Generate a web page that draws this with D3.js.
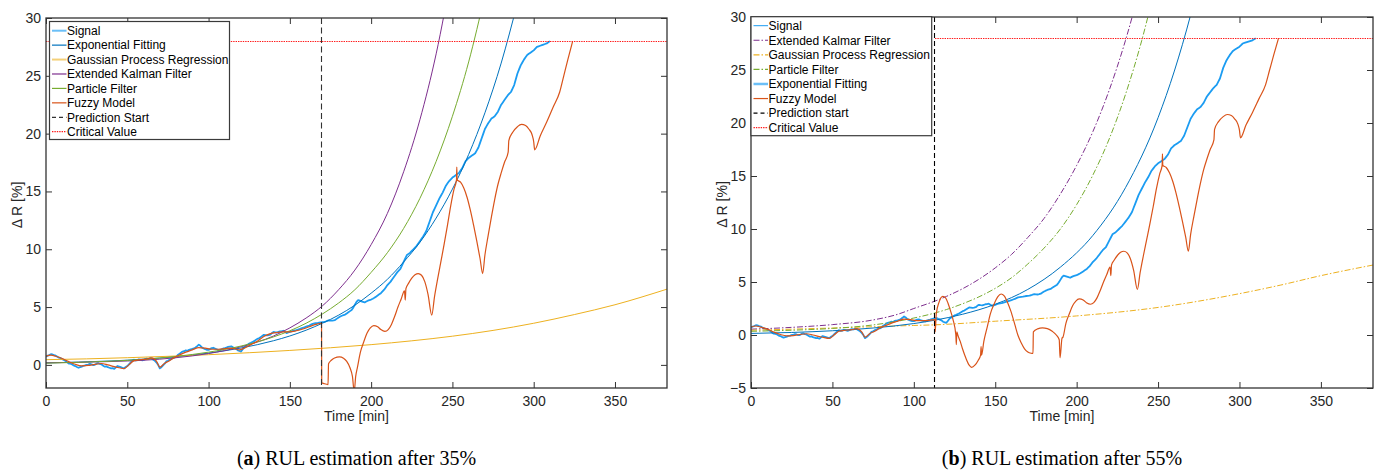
<!DOCTYPE html>
<html>
<head>
<meta charset="utf-8">
<script src="https://cdn.jsdelivr.net/npm/d3@7"></script>
<style>
  body { margin: 0; background: #fff; }
  svg { display: block; }
</style>
</head>
<body>
<svg id="chart" width="1381" height="470"></svg>
<script>
// ---------- data ----------
// measured resistance change, sampled every minute from t = 0
const signalStep = 1;
const signalValues = [
  0.70, 0.80, 0.85, 0.92, 0.90, 0.84, 0.80, 0.70, 0.62, 0.58, 0.50,
  0.42, 0.35, 0.22, 0.12, 0.10, 0.05, -0.05, -0.10, -0.18, -0.25,
  -0.20, -0.15, -0.08, -0.05, 0.00, 0.02, 0.08, 0.05, -0.02, 0.00,
  0.10, 0.15, 0.08, 0.05, -0.05, -0.15, -0.12, -0.20, -0.25, -0.30,
  -0.28, -0.35, -0.22, -0.10, -0.15, -0.20, -0.25, -0.30, -0.18, -0.10,
  0.05, 0.20, 0.35, 0.45, 0.38, 0.40, 0.48, 0.45, 0.40, 0.42,
  0.50, 0.55, 0.52, 0.60, 0.55, 0.45, 0.35, 0.20, 0.00, -0.30,
  -0.20, -0.05, 0.10, 0.30, 0.35, 0.45, 0.50, 0.60, 0.62, 0.70,
  0.85, 0.95, 1.05, 1.15, 1.18, 1.25, 1.22, 1.30, 1.35, 1.38,
  1.42, 1.50, 1.62, 1.75, 1.65, 1.50, 1.42, 1.35, 1.30, 1.30,
  1.38, 1.45, 1.48, 1.40, 1.35, 1.30, 1.28, 1.35, 1.42, 1.45,
  1.50, 1.55, 1.58, 1.60, 1.52, 1.45, 1.38, 1.25, 1.20, 1.15,
  1.35, 1.55, 1.65, 1.75, 1.85, 1.90, 1.98, 2.05, 2.15, 2.25,
  2.30, 2.40, 2.50, 2.60, 2.58, 2.55, 2.58, 2.62, 2.75, 2.85,
  2.82, 2.80, 2.85, 2.90, 2.92, 2.95, 2.85, 2.75, 2.80, 2.85,
  2.90, 2.95, 2.98, 3.00, 3.05, 3.10, 3.15, 3.20, 3.25, 3.30,
  3.35, 3.40, 3.48, 3.55, 3.58, 3.60, 3.62, 3.65, 3.68, 3.70,
  3.72, 3.75, 3.80, 3.85, 3.83, 3.82, 3.85, 3.90, 4.00, 4.10,
  4.18, 4.25, 4.30, 4.35, 4.45, 4.55, 4.65, 4.75, 4.95, 5.20,
  5.45, 5.60, 5.55, 5.50, 5.45, 5.40, 5.48, 5.55, 5.60, 5.65,
  5.72, 5.80, 5.90, 6.00, 6.10, 6.20, 6.35, 6.50, 6.70, 6.90,
  7.05, 7.20, 7.40, 7.60, 7.80, 8.00, 8.15, 8.30, 8.60, 8.90,
  9.20, 9.50, 9.60, 9.70, 9.85, 10.00, 10.15, 10.30, 10.50, 10.70,
  10.90, 11.10, 11.35, 11.60, 12.00, 12.40, 12.80, 13.20, 13.50, 13.80,
  14.10, 14.40, 14.65, 14.90, 15.20, 15.50, 15.70, 15.90, 16.05, 16.20,
  16.30, 16.40, 16.50, 16.60, 16.80, 17.00, 17.30, 17.60, 17.75, 17.90,
  18.00, 18.10, 18.20, 18.30, 18.55, 18.80, 19.20, 19.60, 20.00, 20.40,
  20.65, 20.90, 21.10, 21.30, 21.40, 21.50, 21.70, 21.90, 22.20, 22.50,
  22.70, 22.90, 23.10, 23.30, 23.45, 23.60, 23.90, 24.20, 24.70, 25.20,
  25.55, 25.90, 26.15, 26.40, 26.60, 26.80, 26.90, 27.00, 27.10, 27.20,
  27.35, 27.50, 27.55, 27.60, 27.65, 27.70, 27.75, 27.80, 27.90, 28.00
];

// fuzzy model: tracking part before the prediction start  [t, value]
const fuzzyHistory = [
  [0, 0.75], [3, 0.85], [6, 0.75], [10, 0.55], [14, 0.28], [18, 0.05], [22, -0.08],
  [26, -0.05], [30, 0.05], [34, 0.12], [38, 0.0], [42, -0.15], [45, -0.25], [48, -0.32],
  [51, 0.0], [54, 0.35], [58, 0.45], [62, 0.5], [65, 0.6], [68, 0.3], [70, -0.2],
  [73, 0.15], [76, 0.35], [79, 0.65], [82, 0.85], [86, 1.1], [90, 1.3], [94, 1.5],
  [98, 1.45], [102, 1.35], [106, 1.35], [110, 1.4], [113, 1.45], [116, 1.4], [119, 1.3],
  [122, 1.45], [126, 1.75], [130, 2.05], [134, 2.45], [138, 2.7], [142, 2.8], [146, 2.85],
  [150, 2.85], [154, 2.95], [158, 3.1], [162, 3.3], [166, 3.5], [169.5, 3.6]
];
// fuzzy model forecast, start after 35 %
const fuzzyPredA = [
  [169.6, -1.55], [171, -1.62], [173.5, -1.7], [173.8, 0.1], [175.5, 0.4], [177.5, 0.6],
  [180.5, 0.7], [183, 0.58], [185, 0.3], [187, -0.25], [188.5, -1.0], [189.6, -2.3], [190.5, -1.0]
];
// fuzzy model forecast, start after 55 %
const fuzzyPredB = [
  [113.1, 0.3], [113.8, 2.0], [115.5, 3.1], [117.8, 3.65], [119.5, 3.5], [121, 3.0],
  [122.5, 2.3], [124, 1.5], [125.8, 0.0], [126.1, -0.9], [126.4, 0.3], [127, 0.0],
  [128.5, -0.6], [130, -1.35], [132, -2.2], [134, -2.85], [135.5, -3.05], [137.5, -2.85],
  [139.5, -2.4], [141, -1.9], [141.3, -1.1], [141.6, -1.9], [143, -0.6], [145, 0.7],
  [147, 2.0], [149.5, 3.0], [151.5, 3.6], [153.6, 3.87], [155.5, 3.7], [157.5, 3.1],
  [159.7, 2.2], [162, 1.0], [164, -0.05], [166, -0.75], [168, -1.3], [170, -1.6],
  [172, -1.72], [173.2, -1.74], [173.4, 0.3], [176, 0.58], [179, 0.67], [182, 0.6],
  [185, 0.35], [187.5, 0.0], [189.3, -0.45], [189.8, -2.15], [191, -0.3]
];
// fuzzy model forecast common to both starts
const fuzzyTail = [
  [191.6, -0.2], [193.4, 1.1], [195.5, 2.0], [197.5, 2.75], [199.5, 3.2], [201.6, 3.4],
  [204, 3.3], [206, 3.05], [208.5, 2.9], [210.5, 3.05], [212.5, 3.5], [214.5, 4.2],
  [216.5, 5.0], [218.5, 5.7], [220.5, 6.4], [221, 5.6], [221.4, 6.6], [223, 7.05],
  [225, 7.5], [227, 7.8], [229, 7.9], [231, 7.75], [233, 7.2], [235, 6.1], [237.3, 4.3],
  [239, 5.9], [241, 7.5], [243, 9.0], [245, 10.5], [247, 12.1], [249, 13.8], [251, 15.2],
  [252.5, 16.0], [252.7, 17.1], [252.9, 16.0], [255, 15.8], [257, 15.3], [259, 14.5],
  [261, 13.4], [263, 12.1], [265, 10.7], [267, 9.2], [268.6, 7.9], [270, 9.5], [272, 11.2],
  [274, 12.8], [276, 14.3], [278, 15.6], [280, 16.6], [282, 17.5], [284.3, 18.4],
  [284.7, 19.4], [287, 20.1], [290, 20.6], [292.5, 20.8], [295, 20.7], [297, 20.4],
  [299, 19.9], [300, 19.3], [300.6, 18.6], [304, 19.8], [308, 21.0], [312, 22.3],
  [316, 23.6], [318.5, 25.0], [321, 26.4], [324, 28.0]
];

// model curves, start after 35 %   [t, value]
const expFitA = [[0, 0.17], [20, 0.24], [40, 0.34], [60, 0.49], [80, 0.71], [100, 1.02], [120, 1.46],
  [140, 2.09], [150, 2.5], [160, 3.0], [170, 3.6], [180, 4.3], [190, 5.16], [200, 6.2], [210, 7.4],
  [220, 8.9], [230, 10.6], [240, 12.7], [250, 15.2], [260, 18.2], [270, 21.8], [280, 26.1], [290, 31.3]];
const gprA = [[0, 0.45], [25, 0.52], [50, 0.62], [75, 0.74], [100, 0.88], [125, 1.05], [150, 1.25],
  [175, 1.48], [200, 1.75], [225, 2.08], [250, 2.48], [275, 2.98], [300, 3.6], [325, 4.35],
  [350, 5.2], [382, 6.55]];
const ekfA = [[0, 0.18], [20, 0.22], [40, 0.29], [60, 0.40], [80, 0.62], [100, 0.98], [120, 1.57],
  [140, 2.5], [150, 3.2], [160, 4.05], [170, 5.1], [180, 6.5], [190, 8.2], [200, 10.4], [210, 13.1],
  [220, 16.7], [230, 21.2], [240, 26.9], [250, 34.2]];
const pfA = [[0, 0.15], [20, 0.22], [40, 0.32], [60, 0.48], [80, 0.73], [100, 1.1], [120, 1.63],
  [140, 2.42], [150, 2.95], [160, 3.6], [170, 4.4], [180, 5.35], [190, 6.5], [200, 8.0], [210, 9.7],
  [220, 11.8], [230, 14.4], [240, 17.6], [250, 21.5], [260, 26.2], [270, 32.0]];

// model curves, start after 55 %
const expFitB = [[0, 0.15], [25, 0.24], [50, 0.4], [75, 0.66], [100, 1.08], [113, 1.4], [130, 1.96],
  [150, 2.9], [170, 4.3], [190, 6.4], [210, 9.4], [230, 13.9], [250, 20.5], [260, 24.9],
  [270, 30.2], [280, 36.6]];
const gprB = [[0, 0.45], [25, 0.55], [50, 0.66], [75, 0.78], [100, 0.9], [113, 0.96], [150, 1.3],
  [200, 1.8], [250, 2.6], [300, 3.9], [325, 4.7], [350, 5.6], [382, 6.6]];
const ekfB = [[0, 0.55], [25, 0.72], [50, 0.98], [75, 1.42], [90, 1.95], [100, 2.5], [113, 3.2],
  [120, 3.64], [130, 4.37], [140, 5.26], [150, 6.33], [160, 7.6], [170, 9.2], [180, 11.0],
  [190, 13.3], [200, 16.0], [210, 19.2], [220, 23.1], [230, 27.8], [240, 33.4]];
const pfB = [[0, 0.35], [25, 0.45], [50, 0.62], [75, 0.95], [100, 1.6], [113, 2.08], [120, 2.4],
  [130, 2.95], [140, 3.6], [150, 4.4], [160, 5.4], [170, 6.7], [180, 8.2], [190, 10.0],
  [200, 12.3], [210, 15.1], [220, 18.5], [230, 22.7], [240, 27.8], [250, 34.0]];

const predictionStartA = 169.5;
const predictionStartB = 113;
const criticalValue = 28;

const xTicks = [0, 50, 100, 150, 200, 250, 300, 350];
const yTicksA = [0, 5, 10, 15, 20, 25, 30];
const yTicksB = [-5, 0, 5, 10, 15, 20, 25, 30];

const legendLabelsA = ["Signal", "Exponential Fitting", "Gaussian Process Regression",
  "Extended Kalman Filter", "Particle Filter", "Fuzzy Model", "Prediction Start", "Critical Value"];
const legendLabelsB = ["Signal", "Extended Kalmar Filter", "Gaussian Process Regression",
  "Particle Filter", "Exponential Fitting", "Fuzzy Model", "Prediction start", "Critical Value"];

// ---------- styles ----------
const C = {
  signal: "#1b9cf2", exp: "#0072bd", gpr: "#edb120", ekf: "#7e2f8e",
  pf: "#77ac30", fuzzy: "#d95319", crit: "#ff1a1a", axis: "#333"
};
const DASHDOT = "6,2,1.5,2";
const CRIT_DASH = "1.4,1";
const TICK_FONT = "'Liberation Sans', Arial, Helvetica, sans-serif";

const signal = signalValues.map((v, i) => [i * signalStep, v]);

const svg = d3.select("#chart");
const crisp = v => Math.round(v - 0.5) + 0.5;

function drawPanel(cfg) {
  const x = d3.scaleLinear().domain([0, 382]).range([cfg.left, cfg.right]);
  const y = d3.scaleLinear().domain(cfg.yDomain).range([cfg.bottom, cfg.top]);
  const g = svg.append("g");

  const clipId = "clip-" + cfg.id;
  svg.append("clipPath").attr("id", clipId).append("rect")
    .attr("x", cfg.left).attr("y", cfg.top)
    .attr("width", cfg.right - cfg.left).attr("height", cfg.bottom - cfg.top);

  const plot = g.append("g").attr("clip-path", `url(#${clipId})`);
  const smooth = d3.line().x(d => x(d[0])).y(d => y(d[1])).curve(d3.curveMonotoneX);
  const straight = d3.line().x(d => x(d[0])).y(d => y(d[1]));

  cfg.series.forEach(s => {
    let path;
    if (s.kind === "signal") {
      path = plot.append("path").datum(s.data).attr("d", straight)
        .attr("stroke-width", 1.8).attr("stroke-linejoin", "round");
    } else if (s.kind === "vline") {
      const px = crisp(x(s.value));
      path = plot.append("line")
        .attr("x1", px).attr("x2", px)
        .attr("y1", cfg.top).attr("y2", cfg.bottom)
        .attr("stroke-width", 1.1);
    } else if (s.kind === "hline") {
      const py = crisp(y(s.value));
      path = plot.append("line")
        .attr("x1", x(s.from)).attr("x2", x(382))
        .attr("y1", py).attr("y2", py)
        .attr("stroke-width", 1.2);
    } else {
      path = plot.append("path").datum(s.data).attr("d", smooth)
        .attr("stroke-width", s.width || 1);
    }
    path.attr("fill", "none").attr("stroke", s.color);
    if (s.dash) path.attr("stroke-dasharray", s.dash);
  });

  // axes with inward ticks on all four sides
  const bottomAxis = d3.axisBottom(x).tickValues(xTicks).tickSize(-6).tickSizeOuter(0).tickPadding(8);
  const topAxis = d3.axisTop(x).tickValues(xTicks).tickSize(-6).tickSizeOuter(0).tickFormat("");
  const leftAxis = d3.axisLeft(y).tickValues(cfg.yTicks).tickSize(-6).tickSizeOuter(0).tickPadding(5);
  const rightAxis = d3.axisRight(y).tickValues(cfg.yTicks).tickSize(-6).tickSizeOuter(0).tickFormat("");

  const axes = [
    [bottomAxis, `translate(0,${cfg.bottom})`],
    [topAxis, `translate(0,${cfg.top})`],
    [leftAxis, `translate(${cfg.left},0)`],
    [rightAxis, `translate(${cfg.right},0)`]
  ];
  axes.forEach(([ax, tr]) => {
    const a = g.append("g").attr("transform", tr).call(ax);
    a.select(".domain").remove();
    a.selectAll(".tick line").attr("stroke", C.axis).attr("stroke-width", 1);
    a.selectAll(".tick text").attr("fill", "#262626")
      .style("font-family", TICK_FONT).style("font-size", "14px");
  });

  g.append("rect")
    .attr("x", cfg.left).attr("y", cfg.top)
    .attr("width", cfg.right - cfg.left).attr("height", cfg.bottom - cfg.top)
    .attr("fill", "none").attr("stroke", C.axis).attr("stroke-width", 1.3);

  // axis titles
  g.append("text")
    .attr("x", (cfg.left + cfg.right) / 2).attr("y", cfg.bottom + 33)
    .attr("text-anchor", "middle").attr("fill", "#262626")
    .style("font-family", TICK_FONT).style("font-size", "14px")
    .text("Time [min]");
  g.append("text")
    .attr("transform", `translate(${cfg.left - 24},${(cfg.top + cfg.bottom) / 2 + 2}) rotate(-90)`)
    .attr("text-anchor", "middle").attr("fill", "#262626")
    .style("font-family", TICK_FONT).style("font-size", "14px")
    .text("\u0394 R [%]");

  // legend
  const L = cfg.legend;
  const lg = g.append("g");
  lg.append("rect")
    .attr("x", L.x).attr("y", L.y).attr("width", L.w).attr("height", L.h)
    .attr("fill", "#fff").attr("stroke", "#3a3a3a").attr("stroke-width", 1.2);
  L.items.forEach((it, i) => {
    const cy = L.y + L.firstRow + i * L.rowStep;
    lg.append("line")
      .attr("x1", L.x + 2.5).attr("x2", L.x + 17)
      .attr("y1", cy).attr("y2", cy)
      .attr("stroke", it.color).attr("stroke-width", it.width || 1.2)
      .attr("stroke-opacity", it.opacity || 1)
      .attr("stroke-dasharray", it.dash || null);
    lg.append("text")
      .attr("x", L.x + 17.5).attr("y", cy + 4.3)
      .attr("fill", "#000")
      .style("font-family", TICK_FONT).style("font-size", "12px")
      .text(it.label);
  });

  // caption
  const cap = svg.append("text")
    .attr("x", (cfg.left + cfg.right) / 2).attr("y", 465)
    .attr("text-anchor", "middle").attr("fill", "#000")
    .style("font-family", "'Liberation Serif', 'DejaVu Serif', serif").style("font-size", "20px");
  cap.append("tspan").text("(");
  cap.append("tspan").attr("font-weight", "bold").text(cfg.id);
  cap.append("tspan").text(") " + cfg.caption);
}

// panel (a): prediction starting after 35 % of the lifetime
drawPanel({
  id: "a", left: 46, right: 667, top: 18, bottom: 388,
  yDomain: [-2, 30], yTicks: yTicksA,
  caption: "RUL estimation after 35%",
  series: [
    { kind: "signal", data: signal, color: C.signal },
    { kind: "curve", data: expFitA, color: C.exp },
    { kind: "curve", data: gprA, color: C.gpr },
    { kind: "curve", data: ekfA, color: C.ekf },
    { kind: "curve", data: pfA, color: C.pf },
    { kind: "curve", data: fuzzyHistory.concat(fuzzyPredA, fuzzyTail), color: C.fuzzy, width: 1.2 },
    { kind: "vline", value: predictionStartA, color: "#333", dash: "6,3.5" },
    { kind: "hline", value: criticalValue, from: 0, color: C.crit, dash: CRIT_DASH }
  ],
  legend: {
    x: 49.5, y: 21.5, w: 180, h: 118, firstRow: 9.2, rowStep: 14.43,
    items: [
      { label: legendLabelsA[0], color: C.signal, width: 2, opacity: 0.65 },
      { label: legendLabelsA[1], color: C.exp },
      { label: legendLabelsA[2], color: C.gpr, width: 2, opacity: 0.6 },
      { label: legendLabelsA[3], color: C.ekf },
      { label: legendLabelsA[4], color: C.pf },
      { label: legendLabelsA[5], color: C.fuzzy },
      { label: legendLabelsA[6], color: "#333", dash: "4,3" },
      { label: legendLabelsA[7], color: C.crit, dash: CRIT_DASH }
    ]
  }
});

// panel (b): prediction starting after 55 % of the lifetime
drawPanel({
  id: "b", left: 751, right: 1373, top: 17, bottom: 388,
  yDomain: [-5, 30], yTicks: yTicksB,
  caption: "RUL estimation after 55%",
  series: [
    { kind: "signal", data: signal, color: C.signal },
    { kind: "curve", data: ekfB, color: C.ekf, dash: DASHDOT },
    { kind: "curve", data: gprB, color: C.gpr, dash: DASHDOT },
    { kind: "curve", data: pfB, color: C.pf, dash: DASHDOT },
    { kind: "curve", data: expFitB, color: C.exp },
    { kind: "curve", data: fuzzyHistory.filter(d => d[0] <= predictionStartB).concat(fuzzyPredB, fuzzyTail), color: C.fuzzy, width: 1.2 },
    { kind: "vline", value: predictionStartB, color: "#000", dash: "5,3" },
    { kind: "hline", value: criticalValue, from: predictionStartB, color: C.crit, dash: CRIT_DASH }
  ],
  legend: {
    x: 751, y: 16.7, w: 180.7, h: 119, firstRow: 9, rowStep: 14.57,
    items: [
      { label: legendLabelsB[0], color: C.signal, width: 1 },
      { label: legendLabelsB[1], color: C.ekf, dash: DASHDOT },
      { label: legendLabelsB[2], color: C.gpr, dash: DASHDOT },
      { label: legendLabelsB[3], color: C.pf, dash: DASHDOT },
      { label: legendLabelsB[4], color: C.signal, width: 2.5, opacity: 0.65 },
      { label: legendLabelsB[5], color: C.fuzzy },
      { label: legendLabelsB[6], color: "#000", dash: "4,3" },
      { label: legendLabelsB[7], color: C.crit, dash: CRIT_DASH }
    ]
  }
});
</script>
</body>
</html>
